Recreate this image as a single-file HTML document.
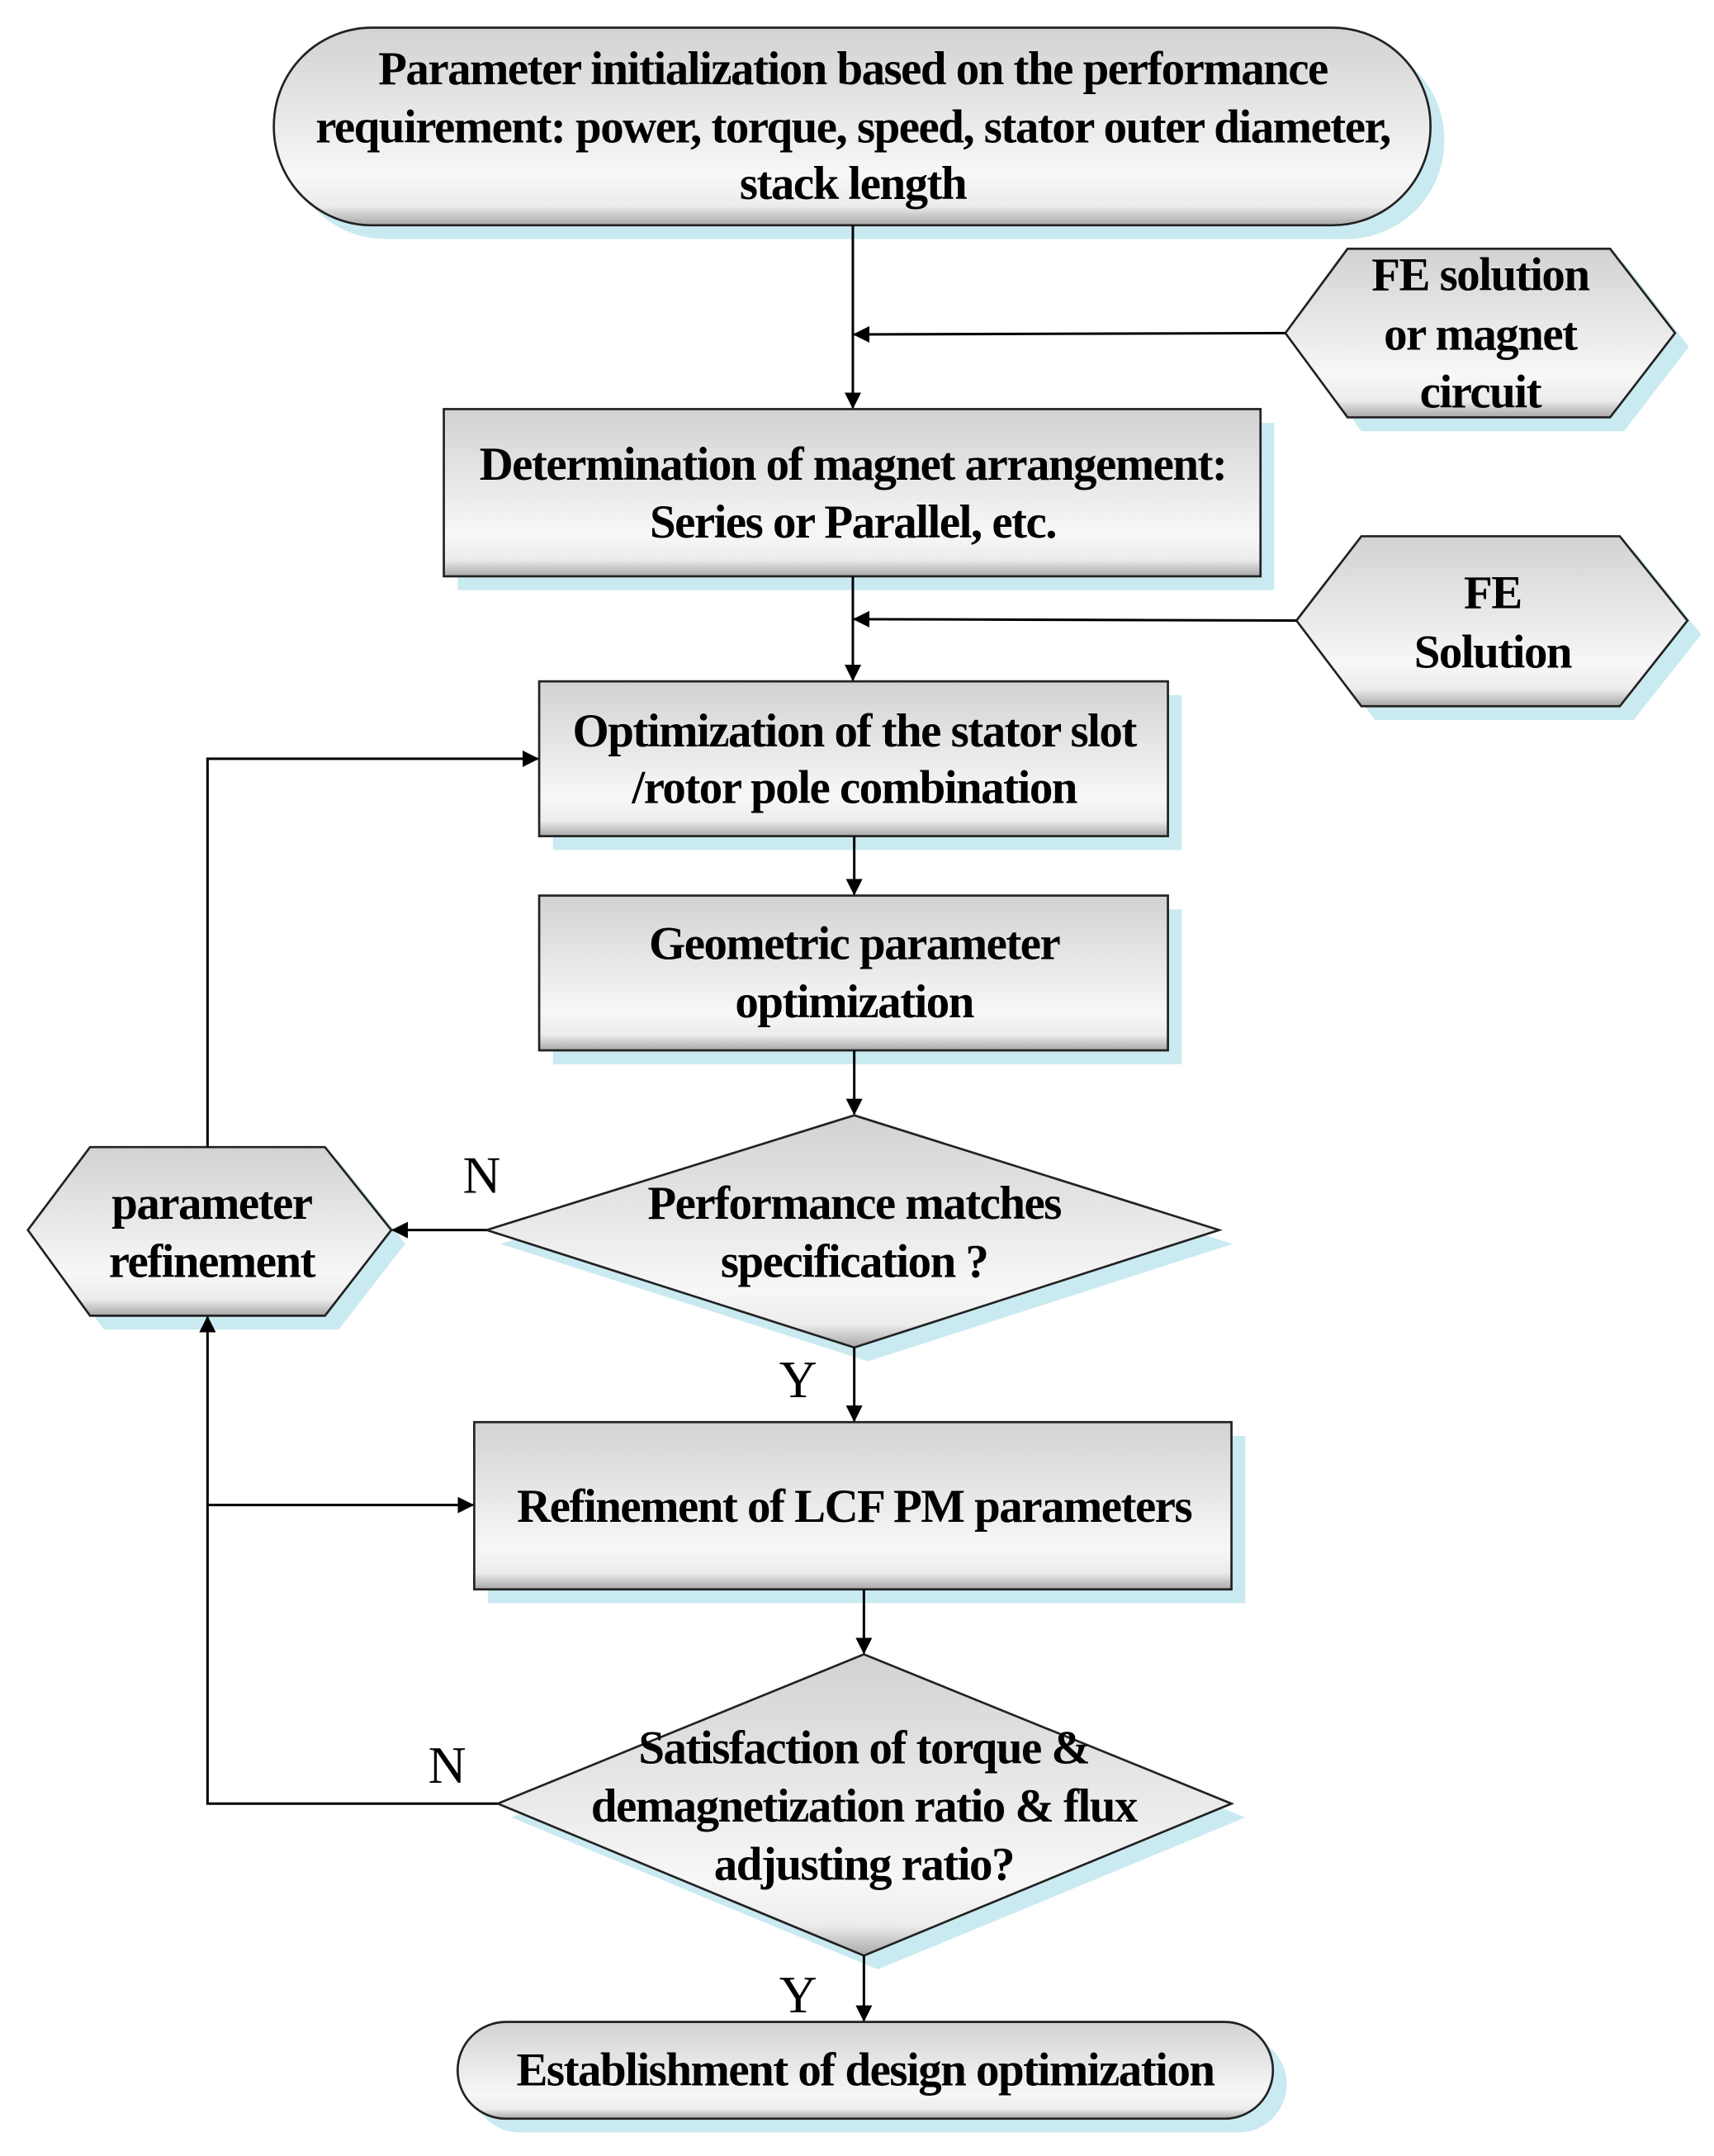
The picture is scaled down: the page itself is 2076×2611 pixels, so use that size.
<!DOCTYPE html>
<html><head><meta charset="utf-8"><style>
html,body{margin:0;padding:0;background:#fff}
svg{display:block}
text{font-family:"Liberation Serif",serif;font-size:34px;font-weight:bold;fill:#000;text-anchor:middle;letter-spacing:-0.9px}
</style></head><body>
<svg width="2076" height="2611" viewBox="0 0 1240 1560" xmlns="http://www.w3.org/2000/svg">
<defs>
<linearGradient id="g" x1="0" y1="0" x2="0" y2="1">
<stop offset="0" stop-color="#d2d2d2"/><stop offset="0.75" stop-color="#f7f7f7"/><stop offset="0.9" stop-color="#ececec"/><stop offset="1" stop-color="#a8a8a8"/>
</linearGradient>
<marker id="a" markerWidth="12" markerHeight="12" refX="11" refY="6" orient="auto" markerUnits="userSpaceOnUse" viewBox="0 0 12 12">
<path d="M0,0 L12,6 L0,12 z" fill="#000"/></marker>
</defs>
<g fill="#c9eaf0">
<rect x="208" y="30" width="837" height="143" rx="71"/>
<polygon points="940,251 985,190 1175,190 1222,251 1175,312 985,312"/>
<rect x="331" y="306" width="591" height="121"/>
<polygon points="948,459 995,398 1182,398 1231,459 1182,521 995,521"/>
<rect x="400" y="503" width="455" height="112"/>
<rect x="400" y="658" width="455" height="112"/>
<polygon points="362,900 628,817 892,900 628,985"/>
<polygon points="30,900 75,840 245,840 293,900 245,962 75,962"/>
<rect x="353" y="1039" width="548" height="121"/>
<polygon points="370,1315 635,1207 901,1315 635,1425"/>
<rect x="341" y="1473" width="590" height="70" rx="35"/>
</g>
<g fill="url(#g)" stroke="#222" stroke-width="1.6">
<rect x="198" y="20" width="837" height="143" rx="71"/>
<polygon points="930,241 975,180 1165,180 1212,241 1165,302 975,302"/>
<rect x="321" y="296" width="591" height="121"/>
<polygon points="938,449 985,388 1172,388 1221,449 1172,511 985,511"/>
<rect x="390" y="493" width="455" height="112"/>
<rect x="390" y="648" width="455" height="112"/>
<polygon points="352,890 618,807 882,890 618,975"/>
<polygon points="20,890 65,830 235,830 283,890 235,952 65,952"/>
<rect x="343" y="1029" width="548" height="121"/>
<polygon points="360,1305 625,1197 891,1305 625,1415"/>
<rect x="331" y="1463" width="590" height="70" rx="35"/>
</g>
<g stroke="#000" stroke-width="1.8" fill="none">
<line x1="617" y1="163" x2="617" y2="295" marker-end="url(#a)"/>
<line x1="930" y1="241" x2="618" y2="242" marker-end="url(#a)"/>
<line x1="617" y1="417" x2="617" y2="492" marker-end="url(#a)"/>
<line x1="938" y1="449" x2="618" y2="448" marker-end="url(#a)"/>
<line x1="618" y1="605" x2="618" y2="647" marker-end="url(#a)"/>
<line x1="618" y1="760" x2="618" y2="806" marker-end="url(#a)"/>
<line x1="352" y1="890" x2="284" y2="890" marker-end="url(#a)"/>
<polyline points="150,830 150,549 389,549" marker-end="url(#a)"/>
<line x1="618" y1="975" x2="618" y2="1028" marker-end="url(#a)"/>
<line x1="625" y1="1150" x2="625" y2="1196" marker-end="url(#a)"/>
<polyline points="360,1305 150,1305 150,953" marker-end="url(#a)"/>
<line x1="150" y1="1089" x2="342" y2="1089" marker-end="url(#a)"/>
<line x1="625" y1="1415" x2="625" y2="1462" marker-end="url(#a)"/>
</g>
<text x="617" y="61">Parameter initialization based on the performance</text>
<text x="617" y="103">requirement: power, torque, speed, stator outer diameter,</text>
<text x="617" y="144">stack length</text>
<text x="1071" y="210">FE solution</text>
<text x="1071" y="253">or magnet</text>
<text x="1071" y="295">circuit</text>
<text x="617" y="347">Determination of magnet arrangement:</text>
<text x="617" y="389">Series or Parallel, etc.</text>
<text x="1080" y="440">FE</text>
<text x="1080" y="483">Solution</text>
<text x="618" y="540">Optimization of the stator slot</text>
<text x="618" y="581">/rotor pole combination</text>
<text x="618" y="694">Geometric parameter</text>
<text x="618" y="736">optimization</text>
<text x="618" y="882">Performance matches</text>
<text x="618" y="924">specification ?</text>
<text x="153" y="882">parameter</text>
<text x="153" y="924">refinement</text>
<text x="348" y="863" style="font-size:38px;font-weight:normal">N</text>
<text x="577" y="1011" style="font-size:38px;font-weight:normal">Y</text>
<text x="618" y="1101">Refinement of LCF PM parameters</text>
<text x="625" y="1276">Satisfaction of torque &amp;</text>
<text x="625" y="1318">demagnetization ratio &amp;  flux</text>
<text x="625" y="1360">adjusting ratio?</text>
<text x="323" y="1290" style="font-size:38px;font-weight:normal">N</text>
<text x="577" y="1456" style="font-size:38px;font-weight:normal">Y</text>
<text x="626" y="1509">Establishment of design optimization</text>
</svg>
</body></html>
